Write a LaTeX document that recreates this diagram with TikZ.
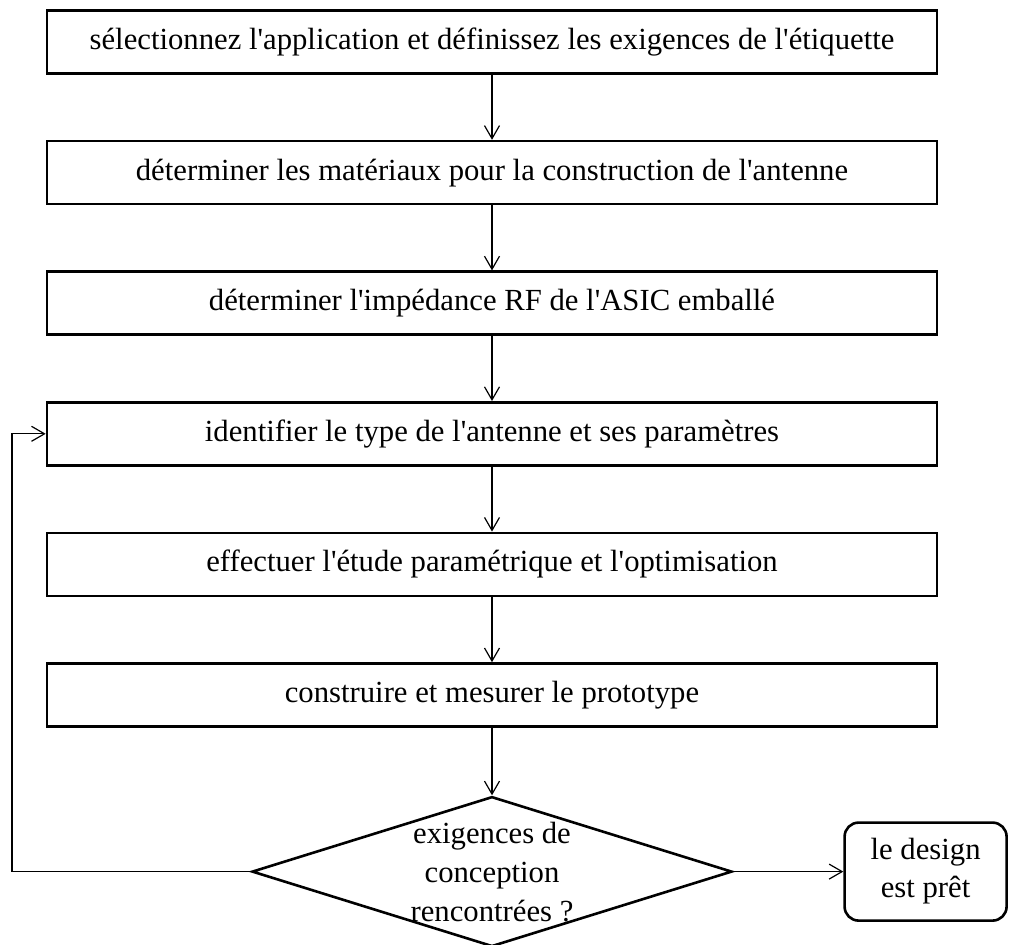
\documentclass[tikz,border=0pt]{standalone}
\usepackage{fontspec}
\setmainfont{Liberation Serif}
\usetikzlibrary{
    positioning,
    arrows.meta,
    shapes.geometric
}

\begin{document}
\begin{tikzpicture}[node distance=65pt, x=1pt, y=1pt]

    % --- Styles ---
    \tikzset{
        etape/.style={draw, line width=2.6pt, minimum width=890pt, minimum height=63pt,
                      font=\fontsize{30.7}{39}\selectfont},
        decision/.style={draw, diamond, line width=2.6pt, minimum width=480pt,
                         minimum height=150pt, inner sep=0pt},
        fin/.style={draw, rounded corners=14pt, line width=2.6pt, minimum width=162pt,
                    minimum height=98pt, align=center, font=\fontsize{30.7}{38}\selectfont},
        fleche/.style={-{Straight Barb[length=13pt, width=15pt]}, line width=1.2pt}
    }

    \useasboundingbox (0,0) rectangle (1010,-945);

    % --- Etapes ---
    \node[etape] (b1) at (492,-42) {sélectionnez l\textquotesingle application et définissez les exigences de l\textquotesingle étiquette};
    \node[etape, below=of b1] (b2) {déterminer les matériaux pour la construction de l\textquotesingle antenne};
    \node[etape, below=of b2] (b3) {déterminer l\textquotesingle impédance RF de l\textquotesingle ASIC emballé};
    \node[etape, below=of b3] (b4) {identifier le type de l\textquotesingle antenne et ses paramètres};
    \node[etape, below=of b4] (b5) {effectuer l\textquotesingle étude paramétrique et l\textquotesingle optimisation};
    \node[etape, below=of b5] (b6) {construire et mesurer le prototype};

    % --- Decision ---
    \node[decision, below=67.5pt of b6] (dec) {};
    \node[align=center, font=\fontsize{30.7}{39}\selectfont] (dec_text) at (dec) {exigences de\\ conception\\ rencontrées ?};
    \node[fin, right=110pt of dec] (pret) {le design\\ est prêt};

    \coordinate (retour) at (12,0);

    % --- Fleches ---
    \foreach \a/\b in {b1/b2, b2/b3, b3/b4, b4/b5, b5/b6} {
        \draw[fleche] (\a) -- (\b);
    }
    \draw[fleche] (b6) -- (dec);
    \draw[fleche] (dec) -- (pret);
    \draw[fleche] (dec.west) -- (dec.west -| retour) |- (b4.west);

\end{tikzpicture}
\end{document}
